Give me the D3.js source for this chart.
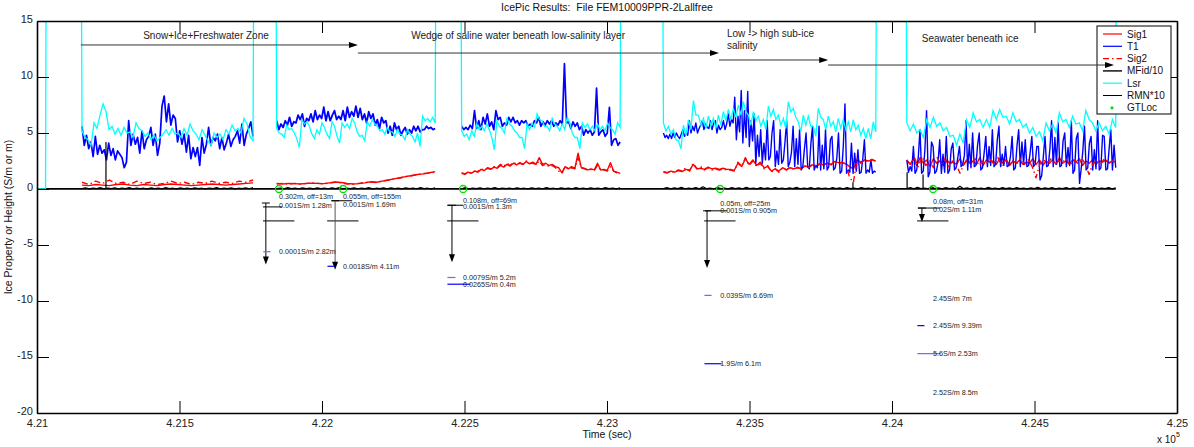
<!DOCTYPE html>
<html>
<head>
<meta charset="utf-8">
<script src="https://cdn.jsdelivr.net/npm/d3@7"></script>
<style>
  body { margin: 0; background: #fff; }
  text { font-family: Arial, "Liberation Sans", Helvetica, sans-serif; white-space: pre; }
</style>
</head>
<body>
<svg id="chart" width="1194" height="447"></svg>
<script>
// ---- data ----
var xTicks = [421000, 421500, 422000, 422500, 423000, 423500, 424000, 424500, 425000];
var yTicks = [15, 10, 5, 0, -5, -10, -15, -20];

// five survey segments (time in sec)
var segStart = [421158, 421841, 422490, 423198, 424052];
var segEnd   = [421758, 422397, 423046, 423943, 424785];

// T1 (readings of the noisy trace, high / low / middle)
var t1Seg1 = [5.6,3.9,4.8,3.6,4.2,2.9,4.7,3.1,3.9,3.2,3.5,2.6,4.1,3.0,3.6,2.6,3.4,3.1,2.8,1.9,2.4,6.1,3.9,4.9,4.0,4.6,3.2,5.2,3.6,4.4,4.7,5.5,3.9,4.9,3.0,4.1,7.4,8.3,6.0,7.6,5.7,6.6,6.3,4.2,5.2,4.0,4.9,3.3,4.8,2.7,3.7,2.9,3.7,2.1,4.6,3.2,4.0,5.5,3.9,4.6,4.3,4.9,3.6,4.6,3.5,4.1,4.9,3.8,4.4,4.7,5.2,4.1,5.8,3.9,4.9,5.4,6.0,4.7];
var t1Seg2 = [6.1,5.3,5.8,5.5,6.1,5.7,6.4,5.6,6.0,5.9,6.6,6.2,6.7,5.6,6.3,6.1,6.7,6.0,7.0,6.2,6.6,6.3,7.3,6.1,6.9,6.1,6.6,7.0,6.2,6.5,6.2,7.0,6.1,7.3,6.4,6.9,6.5,7.4,6.4,7.2,6.2,6.7,5.9,6.9,6.3,6.7,5.7,6.2,5.4,6.4,5.9,6.1,5.0,5.6,4.8,5.9,5.3,5.6,4.8,5.2,5.5,4.9,5.3,5.0,5.6,5.2,5.6,5.1,5.3,5.3,5.6,5.4,5.5,5.3,5.4];
var t1Seg3 = [5.6,5.3,5.5,5.3,5.7,5.4,7.0,5.4,6.1,5.3,6.4,5.8,6.7,5.6,6.0,5.3,7.0,6.2,6.4,5.6,5.9,5.7,6.4,6.0,6.4,5.9,6.1,5.7,6.1,5.9,6.1,5.6,5.8,5.6,6.1,5.9,6.4,5.6,6.0,5.7,6.1,5.8,6.1,5.6,5.9,5.7,6.1,5.8,11.2,5.9,6.0,5.4,6.0,5.6,5.9,5.3,5.6,4.8,5.3,5.0,5.3,4.8,5.1,9.0,4.8,5.1,5.3,4.7,5.0,7.3,3.9,4.4,4.5,3.9,4.2];
var t1Seg4 = [5.0,4.6,4.8,4.5,4.9,4.5,5.0,4.6,5.0,4.7,4.5,4.9,5.3,4.7,5.0,4.8,6.1,5.0,5.6,5.2,5.9,5.0,5.4,5.7,6.1,5.3,5.8,5.5,5.4,6.1,5.3,5.9,6.1,5.0,5.7,5.3,5.5,6.1,5.3,5.8,6.7,5.6,6.2,5.9,8.2,4.4,6.5,5.1,8.8,4.1,7.0,4.6,8.7,3.8,6.1,4.3,6.7,2.3,4.8,2.9,5.3,2.3,4.1,2.6,6.1,2.6,2.9,5.0,6.1,2.0,3.4,2.2,5.3,2.3,2.6,4.2,6.1,2.0,2.4,3.3,5.6,2.0,4.5,2.2,5.3,1.7,2.0,3.6,5.0,2.0,1.8,4.1,5.6,1.7,2.1,1.9,5.6,1.7,3.9,1.8,5.3,1.7,2.0,4.4,4.7,1.7,1.9,2.8,5.0,1.4,1.6,3.9,7.6,1.4,1.7,1.5,4.1,1.4,3.2,1.6,3.5,1.4,1.5,2.7,4.4,1.4,1.7,1.5,2.6,1.4,1.6,1.5];
var t1Seg5 = [2.6,1.5,2.0,1.6,3.8,1.4,1.7,2.9,5.3,1.4,1.6,3.5,7.0,1.1,1.5,4.2,3.8,1.4,1.6,2.4,4.4,1.4,3.1,1.5,4.7,1.4,1.7,3.6,4.1,1.7,1.9,2.8,3.8,2.0,2.2,3.0,6.1,1.7,4.0,1.9,5.0,2.0,2.1,3.9,5.0,1.7,1.9,3.2,4.7,2.0,3.8,2.1,5.3,2.0,2.2,4.4,5.6,2.0,3.1,2.1,3.8,2.0,2.1,2.9,4.7,1.7,1.9,3.9,5.3,2.0,4.2,2.2,4.4,2.0,2.1,3.3,4.7,2.0,2.2,3.8,3.8,0.8,1.2,2.9,4.7,2.0,2.1,3.6,6.1,2.0,4.6,2.2,5.9,2.0,2.1,4.3,5.0,2.0,3.7,2.1,6.1,1.4,1.7,4.5,5.0,0.5,1.8,3.4,5.6,1.7,1.9,4.1,4.7,1.7,3.5,1.8,6.1,1.7,1.9,4.8,4.7,1.7,1.8,3.6,5.3,1.7,3.9,1.9];

// Lsr
var lsrOff = 30; // off the top of the axes between segments
var lsrLeadTime = [421000, 421030, 421033];
var lsrLead = [0, 0, 30];
var lsrSeg1 = [5.2,4.6,4.4,3.9,5.9,5.4,6.6,7.6,6.9,5.3,5.6,4.9,5.4,4.8,5.5,5.0,5.1,4.6,5.9,5.4,5.2,4.7,5.0,4.4,4.8,4.3,4.6,4.9,5.3,4.8,5.4,4.9,5.0,4.6,5.4,4.8,5.8,5.2,4.9,4.4,5.3,4.8,4.3,3.9,5.0,4.6,4.9,4.4,5.3,4.9,5.7,5.2,5.4,5.0,6.3,5.8,4.7,4.3];
var lsrSeg2 = [5.4,5.0,4.9,4.6,5.7,5.3,5.4,5.0,4.5,3.7,6.2,5.8,6.0,5.6,4.9,4.5,5.3,4.9,5.9,5.5,4.9,4.5,6.0,5.6,4.7,4.1,5.9,5.5,5.8,5.4,6.3,5.9,5.1,4.7,4.8,4.3,6.0,5.6,6.2,5.8,5.6,5.2,5.3,4.9,5.5,5.1,5.1,4.7,5.3,4.9,4.8,4.4,5.3,4.9,4.7,4.2,5.0,3.8,6.5,6.1,6.3,6.0,6.4,5.9];
var lsrSeg3 = [5.2,4.7,4.9,4.4,5.2,4.7,5.8,5.3,5.6,5.2,5.8,5.3,4.6,3.5,6.1,5.6,5.4,5.0,6.3,5.8,5.6,5.2,5.0,4.6,4.6,3.6,5.8,5.3,5.9,5.5,6.7,6.2,6.1,5.6,5.6,5.2,6.3,5.8,5.6,5.2,5.8,5.3,6.4,5.9,5.0,4.6,4.6,3.6,5.9,5.5,5.8,5.3,5.6,5.2,5.8,5.3,5.6,5.2,5.9,5.5,5.3,4.9,5.9,5.5];
var lsrSeg4 = [5.9,5.2,5.6,4.9,5.3,4.4,4.3,3.6,5.7,4.8,6.2,5.3,7.9,6.6,6.6,5.7,6.3,5.4,6.5,5.6,6.3,5.4,6.6,5.7,6.9,6.1,7.1,6.2,7.2,6.4,7.5,6.6,7.8,6.9,6.6,5.7,6.9,6.1,6.5,5.6,6.2,5.3,7.4,6.5,7.1,6.2,6.6,5.7,6.3,5.4,7.8,6.9,7.2,6.4,6.0,5.1,6.6,5.7,6.5,5.6,5.6,4.7,7.2,6.4,6.2,5.3,6.5,5.6,6.0,5.1,6.3,5.4,6.2,5.3,6.0,5.1,6.2,5.3,5.7,4.8,5.4,4.5,5.4,4.5,6.0,5.1];
var lsrSeg5 = [5.9,5.2,5.8,5.0,5.3,4.6,6.2,5.5,6.4,5.6,5.9,5.2,5.5,4.7,4.8,3.9,4.9,4.1,6.2,5.5,6.8,6.0,6.2,5.5,6.2,5.5,7.0,6.2,7.1,6.4,6.5,5.8,6.8,6.0,6.2,5.5,5.8,5.0,5.5,4.7,5.1,4.3,5.9,5.2,5.8,5.0,6.8,6.0,6.2,5.5,6.5,5.8,5.9,5.2,7.0,6.2,5.9,5.2,5.9,5.2,5.6,4.9,6.2,5.5];

// Sig1
var sig1Seg1 = [0.35,0.3,0.4,0.35,0.3,0.4,0.45,0.35,0.3,0.4,0.35,0.3,0.4,0.45,0.4,0.35,0.3,0.35,0.4,0.45,0.4,0.35,0.4,0.45,0.5,0.55];
var sig1Seg2 = [0.5,0.45,0.5,0.48,0.45,0.5,0.52,0.5,0.48,0.55,0.62,0.58,0.5,0.45,0.48,0.55,0.65,0.6,0.7,0.8,0.9,1.0,1.1,1.2,1.3,1.35,1.45,1.55];
var sig1Seg3 = [1.45,1.35,1.5,1.4,1.6,1.5,1.75,1.65,1.85,1.75,1.95,1.85,2.1,1.95,2.2,2.05,2.3,2.15,2.35,2.2,2.45,2.25,2.4,2.2,2.8,2.2,2.3,2.1,2.2,2.0,1.9,1.45,2.0,1.8,2.0,1.85,3.2,1.9,1.85,1.7,1.8,1.7,2.3,1.7,1.75,1.65,2.35,1.6,1.5,1.4];
var sig1Seg4 = [1.55,1.45,1.6,1.5,1.65,1.55,1.75,1.65,2.2,1.8,1.85,1.75,1.95,1.8,1.85,1.75,1.85,1.75,1.75,1.65,2.3,2.0,2.7,2.2,2.6,2.1,2.4,1.9,2.0,1.6,1.8,1.6,1.9,1.7,1.9,1.8,1.9,1.8,2.05,1.95,2.15,2.05,2.25,2.15,2.3,2.2,2.45,2.35,2.35,2.25,2.0,1.8,2.6,2.4,2.6,2.5,2.6,2.5];
var sig1Seg5 = [2.5,2.2,2.7,2.1,2.8,2.3,2.6,2.0,2.7,2.3,2.5,2.1,2.6,2.3,2.4,2.2,2.7,2.1,2.6,2.3,2.5,2.2,2.8,2.1,2.6,2.4,2.5,2.2,2.7,2.3,2.6,2.1,2.5,2.3,2.6,2.2,2.4,2.3,2.7,2.2,2.6,2.1,2.5,2.3,2.6,2.2,2.8,2.3,2.5,2.2,2.6,2.4,2.7,2.1,2.5,2.3,2.6,2.2,2.5,2.4,2.6,2.3,2.5,2.4];

// Sig2
var sig2Seg1 = [0.6,0.4,0.7,0.5,0.8,0.5,0.6,0.4,0.7,0.5,0.6,0.4,0.5,0.7,0.5,0.6,0.4,0.6,0.5,0.7,0.5,0.6,0.5,0.7,0.6,0.8];
var sig2Seg2 = [0.45,0.5,0.42,0.5,0.45,0.48,0.55,0.5,0.45,0.55,0.6,0.55,0.45,0.42,0.5,0.58,0.62,0.58,0.72,0.78,0.92,0.98,1.12,1.18,1.28,1.38,1.42,1.5];
var sig2Seg3 = [1.4,1.3,1.5,1.45,1.6,1.55,1.8,1.7,1.9,1.8,2.0,1.9,2.2,2.0,2.3,2.1,2.4,2.2,2.3,2.2,2.5,2.3,2.3,2.2,2.5,2.1,2.2,2.0,2.1,1.9,1.6,1.4,2.0,1.8,1.9,1.8,2.8,1.9,1.8,1.7,1.75,1.65,2.1,1.7,1.7,1.6,2.0,1.6,1.45,1.35];
var sig2Seg4 = [1.5,1.45,1.55,1.5,1.7,1.6,1.9,1.6,2.3,1.8,2.0,1.7,1.9,1.7,1.8,1.7,1.8,1.7,1.7,1.6,2.4,2.0,2.8,2.1,2.5,2.0,2.3,1.8,2.1,1.5,1.8,1.5,1.9,1.7,1.95,1.75,1.95,1.8,2.1,1.9,2.2,2.0,2.3,2.1,2.35,2.15,2.5,2.3,2.4,2.2,1.0,0.6,2.7,2.3,2.6,2.4,2.65,2.45];
var sig2Seg5 = [2.6,2.2,2.8,2.0,2.9,2.1,2.5,1.9,2.8,2.2,2.7,2.0,2.5,2.2,1.4,2.2,2.6,2.3,2.7,2.1,2.5,2.3,2.6,2.2,2.8,2.1,2.6,2.2,2.5,2.3,2.7,2.2,2.6,2.0,1.0,2.2,2.6,2.3,2.7,2.2,2.5,2.4,2.7,2.1,2.6,2.3,2.8,2.2,1.3,2.3,2.6,2.2,2.7,2.3,2.5,2.4];

// MFid/10 and RMN*10
var mfidTime = [421000, 424785];
var mfidVals = [0.02, 0.02];
var rmnSeg1 = [0.03,0.1,0.01,0.08,0.04,0.12,0.02,0.07,0.03,0.11,0.01,0.08,0.04,0.12,0.02,0.09,0.03,0.07,0.01,0.1,0.04,0.08,0.02,0.12,0.03,0.07,0.01,0.1,0.04,0.08,0.02,0.11,0.03,0.07,0.01,0.09,0.04,0.12,0.02,0.08,0.03,0.1,0.01,0.07,0.04,0.1,0.02,0.12];
var rmnSeg2 = [0.04,0.09,0.01,0.12,0.03,0.07,0.02,0.1,0.04,0.08,0.01,0.11,0.03,0.07,0.02,0.1,0.04,0.12,0.01,0.08,0.03,0.1,0.02,0.08,0.04,0.12,0.01,0.07,0.03,0.1,0.02,0.11,0.04,0.08,0.01,0.1,0.03,0.09,0.02,0.12,0.04,0.07,0.01,0.1];
var rmnSeg3 = [0.02,0.12,0.01,0.08,0.04,0.1,0.02,0.07,0.03,0.12,0.01,0.09,0.04,0.08,0.02,0.11,0.03,0.07,0.01,0.1,0.04,0.08,0.02,0.12,0.03,0.07,0.01,0.1,0.04,0.08,0.02,0.12,0.03,0.08,0.01,0.1,0.04,0.09,0.02,0.12,0.03,0.08,0.01,0.1];
var rmnSeg4 = [0.03,0.13,0.01,0.1,0.04,0.15,0.02,0.08,0.03,0.12,0.01,0.2,0.03,0.09,0.02,0.13,0.04,0.08,0.01,0.12,0.03,0.1,0.02,0.15,0.04,0.08,0.01,0.12,0.03,0.1,0.02,0.13,0.04,0.08,0.01,0.11,0.03,0.14,0.02,0.09,0.04,0.12,0.01,0.1,0.03,0.08,0.02,0.13,0.04,0.1,0.01,0.12,0.03,0.09,0.02,0.12,0.04,0.08,0.01,0.12];
var rmnSeg5 = [0.03,0.12,0.01,0.15,0.04,0.09,0.02,0.2,0.03,0.1,0.01,0.13,0.04,0.08,0.02,0.25,0.03,0.1,0.01,0.12,0.04,0.09,0.02,0.14,0.03,0.08,0.01,0.12,0.04,0.1,0.02,0.13,0.03,0.09,0.01,0.11,0.04,0.15,0.02,0.1,0.03,0.12,0.01,0.09,0.04,0.13,0.02,0.1,0.03,0.12,0.01,0.1,0.04,0.12,0.02,0.09,0.03,0.12,0.01,0.1];
var rmnSpikeTime = [421242, 423863, 424053, 424109];
var rmnSpikeVal = [4.2, 0.6, 1.5, 1.3];

// ground truth locations and their annotation
var gtTime = [421849, 422074, 422495, 423397, 424144];
var gtThick = ["0.302m, off=13m", "0.055m, off=155m", "0.108m, off=69m", "0.05m, off=25m", "0.08m, off=31m"];
var gtThickY = [-0.7, -0.7, -1.0, -1.3, -1.15];
var gtFirst = ["0.001S/m 1.28m", "0.001S/m 1.69m", "0.001S/m 1.3m", "0.001S/m 0.905m", "0.02S/m 1.11m"];
var gtFirstY = [-1.5, -1.35, -1.6, -1.95, -1.8];
var arrowDt = [-46, -28, -39, -46, -39];
var arrowTop = [-1.25, -1.05, -1.45, -1.95, -1.7];
var arrowBottom = [-6.75, -7.2, -6.55, -7.05, -2.95];
var layerY = [-1.6, -1.05, -1.45, -1.95, -1.7];
var layerDt0 = [-56, -39, -56, -53, -53];
var layerDt1 = [11, 32, 0, 25, 25];
var iceBarY = -2.85;
var iceBarDt = [-56, 54];

var deepGt = [0, 1, 2, 2, 3, 3, 4, 4, 4, 4];
var deepLabel = ["0.0001S/m 2.82m", "0.0018S/m 4.11m", "0.0079S/m 5.2m", "0.0265S/m 0.4m", "0.039S/m 6.69m", "1.9S/m 6.1m", "2.45S/m 7m", "2.45S/m 9.39m", "5.6S/m 2.53m", "2.52S/m 8.5m"];
var deepY = [-5.6, -6.9, -7.9, -8.5, -9.5, -15.6, -9.75, -12.2, -14.7, -18.2];
var deepLen = [25, 25, 28, 81, 25, 60, 0, 25, 81, 0];
var deepColor = ["#6a6aff", "#0000ff", "#6a6aff", "#0000ff", "#6a6aff", "#0000ff", "#0000ff", "#0000ff", "#6a6aff", "#0000ff"];

// zone notes along the top
var zoneText = ["Snow+Ice+Freshwater Zone", "Wedge of saline water beneath low-salinity layer", "Low -> high sub-ice", "salinity", "Seawater beneath ice"];
var zoneTextTime = [421593, 422688, 423421, 423421, 424274];
var zoneTextY = [13.75, 13.75, 13.9, 12.85, 13.45];
var zoneTextAnchor = ["middle", "middle", "start", "start", "middle"];
var zoneArrowStart = [421154, 422126, 423393, 423776];
var zoneArrowEnd = [422126, 423393, 423776, 424779];
var zoneArrowY = [12.86, 12.14, 11.52, 11.07];

var legendNames = ["Sig1", "T1", "Sig2", "MFid/10", "Lsr", "RMN*10", "GTLoc"];

// ---- drawing ----
var svg = d3.select("#chart"),
    L = 37, R = 1177, T = 21, B = 413;

var x = d3.scaleLinear().domain([421000, 425000]).range([L, R]);
var y = d3.scaleLinear().domain([-20, 15]).range([B, T]);

var line = d3.line().x(function (d) { return x(d[0]); }).y(function (d) { return y(d[1]); });

function seg(vals, k) {
    var t0 = segStart[k], t1 = segEnd[k];
    return vals.map(function (v, i) { return [t0 + (t1 - t0) * i / (vals.length - 1), v]; });
}

svg.append("defs").append("clipPath").attr("id", "plotclip")
    .append("rect").attr("x", L).attr("y", T).attr("width", R - L).attr("height", B - T);

var plot = svg.append("g").attr("clip-path", "url(#plotclip)");

function drawSegs(list, color, dash, width) {
    list.forEach(function (vals, k) {
        plot.append("path")
            .attr("d", line(seg(vals, k)))
            .attr("fill", "none")
            .attr("stroke", color)
            .attr("stroke-width", Array.isArray(width) ? width[k] : (width || 1))
            .attr("stroke-linejoin", "round")
            .attr("stroke-dasharray", dash || null);
    });
}

// Sig1
drawSegs([sig1Seg1, sig1Seg2, sig1Seg3, sig1Seg4, sig1Seg5], "#ff0000", null, 1.4);
// T1
drawSegs([t1Seg1, t1Seg2, t1Seg3, t1Seg4, t1Seg5], "#0000ff", null, [1.7, 1.8, 1.7, 1.4, 1.4]);
// Sig2
drawSegs([sig2Seg1, sig2Seg2, sig2Seg3, sig2Seg4, sig2Seg5], "#ff0000", "6,3,1.5,3", 1.4);
// MFid/10
plot.append("path")
    .attr("d", line(mfidTime.map(function (t, i) { return [t, mfidVals[i]]; })))
    .attr("fill", "none").attr("stroke", "#000").attr("stroke-width", 1.8);

// Lsr: one continuous trace, off scale between segments
var lsrPts = lsrLeadTime.map(function (t, i) { return [t, lsrLead[i]]; });
[lsrSeg1, lsrSeg2, lsrSeg3, lsrSeg4, lsrSeg5].forEach(function (vals, k) {
    lsrPts.push([segStart[k] - 4, lsrOff]);
    lsrPts = lsrPts.concat(seg(vals, k));
    lsrPts.push([segEnd[k] + 4, lsrOff]);
});
plot.append("path").attr("d", line(lsrPts))
    .attr("fill", "none").attr("stroke", "#00ffff").attr("stroke-width", 1.3);

// RMN*10
drawSegs([rmnSeg1, rmnSeg2, rmnSeg3, rmnSeg4, rmnSeg5], "#000", null, 1.2);
rmnSpikeTime.forEach(function (t, i) {
    plot.append("line")
        .attr("x1", x(t)).attr("x2", x(t))
        .attr("y1", y(0)).attr("y2", y(rmnSpikeVal[i]))
        .attr("stroke", "#000").attr("stroke-width", 1.2);
});

// GT locations
plot.selectAll("circle.gt").data(gtTime).enter().append("circle")
    .attr("class", "gt")
    .attr("cx", function (d) { return x(d); }).attr("cy", y(0)).attr("r", 3.5)
    .attr("fill", "none").attr("stroke", "#00e000").attr("stroke-width", 1.3);

// ---- GT annotations below zero ----
var ann = svg.append("g");
function hline(t0, t1, v, color, w) {
    ann.append("line").attr("x1", x(t0)).attr("x2", x(t1)).attr("y1", y(v)).attr("y2", y(v))
        .attr("stroke", color).attr("stroke-width", w || 1);
}
function smallText(t, v, s) {
    ann.append("text").attr("x", x(t)).attr("y", y(v)).attr("dy", "0.35em")
        .attr("font-size", "7.2px").attr("fill", "#222").text(s);
}
gtTime.forEach(function (g, i) {
    var ax = g + arrowDt[i];
    hline(g + layerDt0[i], g + layerDt1[i], layerY[i], "#000", 1);
    hline(ax - 14, ax + 14, arrowTop[i], "#000", 1);
    hline(g + iceBarDt[0], g + iceBarDt[1], iceBarY, "#000", 1);
    ann.append("line").attr("x1", x(ax)).attr("x2", x(ax))
        .attr("y1", y(arrowTop[i])).attr("y2", y(arrowBottom[i]) - 6)
        .attr("stroke", i === 1 ? "#555" : "#000").attr("stroke-width", 1);
    var tipX = x(ax), tipY = y(arrowBottom[i]);
    ann.append("path")
        .attr("d", "M" + (tipX - 3) + "," + (tipY - 8) + "L" + (tipX + 3) + "," + (tipY - 8) + "L" + tipX + "," + tipY + "Z")
        .attr("fill", "#000");
    smallText(g, gtThickY[i], gtThick[i]);
    smallText(g, gtFirstY[i], gtFirst[i]);
});
deepLabel.forEach(function (s, j) {
    var g = gtTime[deepGt[j]];
    if (deepLen[j] > 0) hline(g - 55, g - 55 + deepLen[j], deepY[j], deepColor[j], 1.2);
    smallText(g, deepY[j], s);
});

// ---- axes ----
var fmt = function (d) { return String(d); };
svg.append("g").attr("transform", "translate(0," + B + ")")
    .call(d3.axisBottom(x).tickValues(xTicks).tickSizeInner(-12).tickSizeOuter(0).tickPadding(6)
        .tickFormat(function (d) { return String(+(d / 1e5).toFixed(3)); }));
svg.append("g").attr("transform", "translate(0," + T + ")")
    .call(d3.axisTop(x).tickValues(xTicks).tickSizeInner(-12).tickSizeOuter(0).tickFormat(""));
var yAx = svg.append("g").attr("transform", "translate(" + L + ",0)")
    .call(d3.axisLeft(y).tickValues(yTicks).tickSizeInner(-12).tickSizeOuter(0).tickPadding(4).tickFormat(fmt));
yAx.selectAll(".tick text").attr("dy", "0.18em");
svg.append("g").attr("transform", "translate(" + R + ",0)")
    .call(d3.axisRight(y).tickValues(yTicks).tickSizeInner(-12).tickSizeOuter(0).tickFormat(""));
svg.selectAll(".tick text").attr("font-size", "11px").attr("fill", "#222")
    .style("font-family", "Arial, 'Liberation Sans', sans-serif");
svg.selectAll(".domain").attr("stroke", "#000").attr("stroke-width", 1.6);
svg.selectAll(".tick line").attr("stroke", "#000");

// labels
svg.append("text").attr("x", (L + R) / 2).attr("y", 11).attr("text-anchor", "middle")
    .attr("font-size", "10.5px").attr("fill", "#111").text("IcePic Results:  File FEM10009PPR-2Lallfree");
svg.append("text").attr("x", (L + R) / 2).attr("y", 438).attr("text-anchor", "middle")
    .attr("font-size", "10.5px").attr("fill", "#111").text("Time (sec)");
svg.append("text").attr("transform", "translate(12," + ((T + B) / 2) + ") rotate(-90)")
    .attr("text-anchor", "middle").attr("font-size", "10.5px").attr("fill", "#111")
    .text("Ice Property or Height (S/m or m)");
var exp = svg.append("text").attr("x", 1157).attr("y", 443).attr("font-size", "10px").attr("fill", "#111");
exp.append("tspan").text("x 10");
exp.append("tspan").attr("dy", -6).attr("font-size", "7px").text("5");

// ---- legend ----
var lg = svg.append("g");
lg.append("rect").attr("x", 1097).attr("y", 26).attr("width", 74).attr("height", 88)
    .attr("fill", "#fff").attr("stroke", "#000").attr("stroke-width", 1);
var lgColor = ["#ff0000", "#0000ff", "#ff0000", "#222", "#00ffff", "#000", "#00e000"];
var lgDash = [null, null, "6,3,1.5,3", null, null, null, null];
var lgWidth = [1.2, 1.2, 1.2, 1.6, 1.2, 1, 1];
legendNames.forEach(function (n, i) {
    var ly = 34 + i * 12.3;
    if (n === "GTLoc") {
        lg.append("circle").attr("cx", 1112).attr("cy", ly).attr("r", 1.6).attr("fill", lgColor[i]);
    } else {
        lg.append("line").attr("x1", 1103).attr("x2", 1122).attr("y1", ly).attr("y2", ly)
            .attr("stroke", lgColor[i]).attr("stroke-width", lgWidth[i]).attr("stroke-dasharray", lgDash[i]);
    }
    lg.append("text").attr("x", 1127).attr("y", ly).attr("dy", "0.35em")
        .attr("font-size", "10px").attr("fill", "#111").text(n);
});

// ---- zone notes ----
var zn = svg.append("g");
zoneText.forEach(function (s, i) {
    zn.append("text").attr("x", x(zoneTextTime[i])).attr("y", y(zoneTextY[i])).attr("dy", "0.35em")
        .attr("text-anchor", zoneTextAnchor[i]).attr("font-size", "10px").attr("fill", "#222").text(s);
});
zoneArrowStart.forEach(function (t, i) {
    var x0 = x(t), x1 = x(zoneArrowEnd[i]), yy = y(zoneArrowY[i]);
    zn.append("line").attr("x1", x0).attr("x2", x1 - 6).attr("y1", yy).attr("y2", yy)
        .attr("stroke", "#333").attr("stroke-width", 1);
    zn.append("path")
        .attr("d", "M" + (x1 - 9) + "," + (yy - 3) + "L" + x1 + "," + yy + "L" + (x1 - 9) + "," + (yy + 3) + "Z")
        .attr("fill", "#000");
});
</script>
</body>
</html>
